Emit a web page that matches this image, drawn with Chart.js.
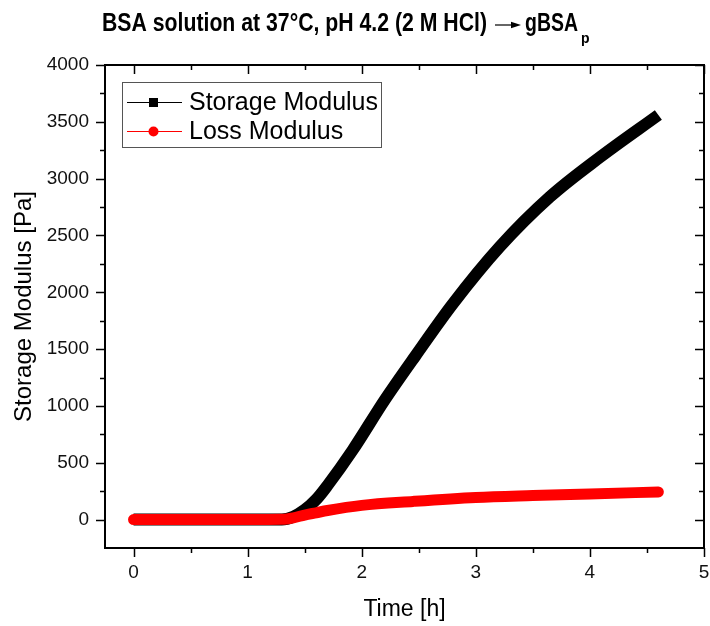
<!DOCTYPE html>
<html>
<head>
<meta charset="utf-8">
<title>BSA gelation</title>
<script src="https://cdn.jsdelivr.net/npm/chart.js@4.4.1/dist/chart.umd.min.js"></script>
<style>
  body { margin: 0; background: #fff; }
  canvas { display: block; }
</style>
</head>
<body>
<canvas id="myChart" width="710" height="626"></canvas>
<script>
// SERIES DATA (time in h, modulus in Pa)
const storageTime = [0, 0.5, 1.0, 1.3, 1.4, 1.5, 1.6, 1.7, 1.92, 2.2, 2.47, 2.8, 3.21, 3.65, 4.09, 4.6];
const storageValue = [0, 0, 0, 0, 25, 85, 175, 300, 610, 1050, 1440, 1900, 2400, 2840, 3190, 3560];

const lossTime = [0, 0.5, 1.0, 1.3, 1.4, 1.5, 1.6, 1.7, 2.0, 2.45, 3.0, 3.5, 4.0, 4.6];
const lossValue = [0, 0, 0, 2, 15, 40, 60, 80, 125, 160, 195, 212, 226, 243];

const seriesLabels = ["Storage Modulus", "Loss Modulus"];
const xTicks = [0, 1, 2, 3, 4, 5];
const yTicks = [0, 500, 1000, 1500, 2000, 2500, 3000, 3500, 4000];

const titleMain = "BSA solution at 37\u00b0C, pH 4.2 (2 M HCl)";
const titleProduct = "gBSA";
const titleSub = "p";

const FONT = "'Liberation Sans', Arial, sans-serif";

function toPoints(xs, ys) {
  return xs.map(function (x, i) {
    return { x: x, y: ys[i] };
  });
}

// FRAME, MIRRORED TICKS, TITLE AND LEGEND
const decorations = {
  id: "decorations",
  afterDraw(chart) {
    const ctx = chart.ctx;
    const area = chart.chartArea;
    const xs = chart.scales.x;
    const ys = chart.scales.y;

    ctx.save();
    ctx.strokeStyle = "#000";
    ctx.lineWidth = 2;
    ctx.strokeRect(area.left, area.top, area.right - area.left, area.bottom - area.top);

    // ticks every half unit on x, every 250 Pa on y
    ctx.lineWidth = 1.5;
    ctx.beginPath();
    for (let v = 0; v <= 5; v += 0.5) {
      const px = Math.round(xs.getPixelForValue(v)) + 0.5;
      const len = Number.isInteger(v) ? 9 : 5;
      ctx.moveTo(px, area.bottom);
      ctx.lineTo(px, area.bottom + len);
      ctx.moveTo(px, area.top);
      ctx.lineTo(px, area.top + len);
    }
    for (let v = 0; v <= 4000; v += 250) {
      const py = Math.round(ys.getPixelForValue(v)) + 0.5;
      const len = v % 500 === 0 ? 9 : 5;
      ctx.moveTo(area.left, py);
      ctx.lineTo(area.left - len, py);
      ctx.moveTo(area.right, py);
      ctx.lineTo(area.right - len, py);
    }
    ctx.stroke();

    // chart title
    ctx.fillStyle = "#000";
    ctx.textBaseline = "alphabetic";
    ctx.font = "bold 25px " + FONT;
    let w = ctx.measureText(titleMain).width;
    ctx.save();
    ctx.translate(102, 31);
    ctx.scale(385 / w, 1);
    ctx.fillText(titleMain, 0, 0);
    ctx.restore();

    ctx.lineWidth = 1.2;
    ctx.beginPath();
    ctx.moveTo(495, 25);
    ctx.lineTo(513, 25);
    ctx.stroke();
    ctx.beginPath();
    ctx.moveTo(521, 25);
    ctx.lineTo(511, 21.7);
    ctx.lineTo(511, 28.3);
    ctx.closePath();
    ctx.fill();

    w = ctx.measureText(titleProduct).width;
    ctx.save();
    ctx.translate(525, 31);
    ctx.scale(53 / w, 1);
    ctx.fillText(titleProduct, 0, 0);
    ctx.restore();
    ctx.font = "bold 14px " + FONT;
    ctx.fillText(titleSub, 581, 43);

    // legend
    ctx.lineWidth = 1;
    ctx.strokeStyle = "#555";
    ctx.strokeRect(122.5, 82.5, 259, 65);
    ctx.font = "25px " + FONT;
    ctx.textBaseline = "middle";
    seriesLabels.forEach(function (label, i) {
      const ds = chart.data.datasets[i];
      const y = 102 + i * 29;
      ctx.strokeStyle = ds.borderColor;
      ctx.fillStyle = ds.borderColor;
      ctx.beginPath();
      ctx.moveTo(127, y + 0.5);
      ctx.lineTo(182, y + 0.5);
      ctx.stroke();
      if (i === 0) {
        ctx.fillRect(149, y - 4, 9, 9);
      } else {
        ctx.beginPath();
        ctx.arc(153.5, y + 0.5, 5, 0, Math.PI * 2);
        ctx.fill();
      }
      ctx.fillStyle = "#000";
      ctx.fillText(label, 189, y + 1);
    });
    ctx.restore();
  },
};

const myChart = document.getElementById("myChart").getContext("2d");

const modulusChart = new Chart(myChart, {
  type: "scatter",
  data: {
    datasets: [
      {
        label: seriesLabels[0],
        data: toPoints(storageTime, storageValue),
        showLine: true,
        borderColor: "#000000",
        borderWidth: 12,
        borderCapStyle: "butt",
        borderJoinStyle: "round",
        cubicInterpolationMode: "monotone",
        pointRadius: 0,
        order: 1,
      },
      {
        label: seriesLabels[1],
        data: toPoints(lossTime, lossValue),
        showLine: true,
        borderColor: "#ff0000",
        borderWidth: 11,
        borderCapStyle: "round",
        borderJoinStyle: "round",
        cubicInterpolationMode: "monotone",
        pointRadius: 0,
        order: 0,
      },
    ],
  },
  options: {
    responsive: false,
    animation: false,
    events: [],
    layout: {
      padding: { left: 0, top: 65, right: 6, bottom: 0 },
    },
    plugins: {
      legend: { display: false },
      tooltip: { enabled: false },
    },
    scales: {
      x: {
        type: "linear",
        min: -0.25,
        max: 5,
        afterFit: function (scale) {
          scale.height = 78;
          scale.paddingLeft = 0;
          scale.paddingRight = 0;
        },
        afterBuildTicks: function (scale) {
          scale.ticks = xTicks.map(function (v) {
            return { value: v };
          });
        },
        grid: { display: false, drawTicks: false },
        border: { display: false },
        ticks: {
          padding: 13,
          color: "#111",
          font: { family: FONT, size: 19 },
          callback: function (value) {
            return String(value);
          },
        },
        title: {
          display: true,
          text: "Time [h]",
          color: "#000",
          padding: { top: 0, bottom: 3 },
          font: { family: FONT, size: 23 },
        },
      },
      y: {
        type: "linear",
        min: -250,
        max: 4000,
        afterFit: function (scale) {
          scale.width = 105;
          scale.paddingTop = 0;
          scale.paddingBottom = 0;
        },
        afterBuildTicks: function (scale) {
          scale.ticks = yTicks.map(function (v) {
            return { value: v };
          });
        },
        grid: { display: false, drawTicks: false },
        border: { display: false },
        ticks: {
          padding: 16,
          color: "#111",
          font: { family: FONT, size: 19 },
          callback: function (value) {
            return String(value);
          },
        },
        title: {
          display: true,
          text: "Storage Modulus [Pa]",
          color: "#000",
          padding: { top: 10, bottom: 0 },
          font: { family: FONT, size: 24 },
        },
      },
    },
  },
  plugins: [decorations],
});
</script>
</body>
</html>
